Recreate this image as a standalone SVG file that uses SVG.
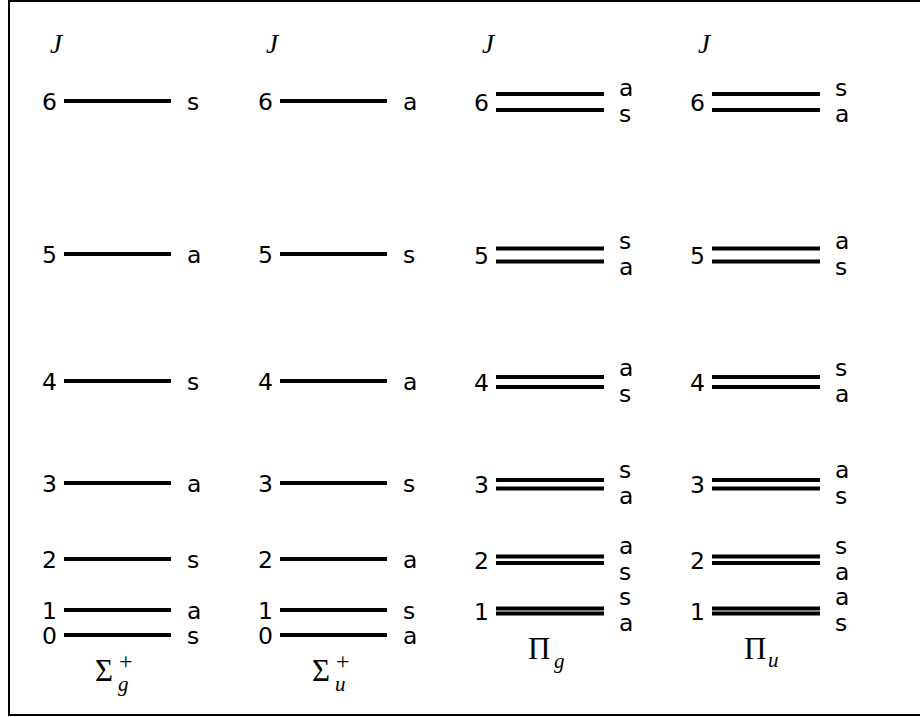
<svg xmlns="http://www.w3.org/2000/svg" width="920" height="717" viewBox="0 0 920 717">
<style>
.lv{stroke:#000;stroke-width:3.8;fill:none}
.n{font-family:"DejaVu Sans",sans-serif;font-size:23.5px;fill:#000}
.ne{font-family:"DejaVu Sans",sans-serif;font-size:23.5px;fill:#000;text-anchor:end}
.mj{font-family:"Liberation Serif",serif;font-style:italic;font-size:27px;fill:#000}
.sym{font-family:"Liberation Serif",serif;font-size:31px;fill:#000}
.sub{font-family:"Liberation Serif",serif;font-style:italic;font-size:21px;fill:#000}
.sup{font-family:"Liberation Serif",serif;font-size:24px;fill:#000}
</style>
<rect x="9" y="1" width="920" height="714" fill="#fff" stroke="#000" stroke-width="2"/>

<g id="col-sigma-g">
<text class="mj" x="50" y="53">J</text>
<g class="lv"><line x1="64" y1="101" x2="171" y2="101"/><line x1="64" y1="254" x2="171" y2="254"/><line x1="64" y1="381" x2="171" y2="381"/><line x1="64" y1="483" x2="171" y2="483"/><line x1="64" y1="559" x2="171" y2="559"/><line x1="64" y1="610" x2="171" y2="610"/><line x1="64" y1="635" x2="171" y2="635"/></g>
<text class="ne" x="57" y="110">6</text><text class="ne" x="57" y="263">5</text><text class="ne" x="57" y="390">4</text><text class="ne" x="57" y="492">3</text><text class="ne" x="57" y="568">2</text><text class="ne" x="57" y="619">1</text><text class="ne" x="57" y="644">0</text>
<text class="n" x="187" y="110">s</text><text class="n" x="187" y="263">a</text><text class="n" x="187" y="390">s</text><text class="n" x="187" y="492">a</text><text class="n" x="187" y="568">s</text><text class="n" x="187" y="619">a</text><text class="n" x="187" y="644">s</text>
<text class="sym" x="95" y="681">Σ</text><text class="sup" x="119" y="669">+</text><text class="sub" x="118" y="691">g</text>
</g>

<g id="col-sigma-u">
<text class="mj" x="266" y="53">J</text>
<g class="lv"><line x1="280" y1="101" x2="387" y2="101"/><line x1="280" y1="254" x2="387" y2="254"/><line x1="280" y1="381" x2="387" y2="381"/><line x1="280" y1="483" x2="387" y2="483"/><line x1="280" y1="559" x2="387" y2="559"/><line x1="280" y1="610" x2="387" y2="610"/><line x1="280" y1="635" x2="387" y2="635"/></g>
<text class="ne" x="273" y="110">6</text><text class="ne" x="273" y="263">5</text><text class="ne" x="273" y="390">4</text><text class="ne" x="273" y="492">3</text><text class="ne" x="273" y="568">2</text><text class="ne" x="273" y="619">1</text><text class="ne" x="273" y="644">0</text>
<text class="n" x="403" y="110">a</text><text class="n" x="403" y="263">s</text><text class="n" x="403" y="390">a</text><text class="n" x="403" y="492">s</text><text class="n" x="403" y="568">a</text><text class="n" x="403" y="619">s</text><text class="n" x="403" y="644">a</text>
<text class="sym" x="312" y="681">Σ</text><text class="sup" x="336" y="669">+</text><text class="sub" x="335" y="691">u</text>
</g>

<g id="col-pi-g">
<text class="mj" x="482" y="53">J</text>
<g class="lv">
<line x1="496" y1="94" x2="604" y2="94"/><line x1="496" y1="110" x2="604" y2="110"/>
<line x1="496" y1="248.5" x2="604" y2="248.5"/><line x1="496" y1="261.5" x2="604" y2="261.5"/>
<line x1="496" y1="377" x2="604" y2="377"/><line x1="496" y1="387" x2="604" y2="387"/>
<line x1="496" y1="480" x2="604" y2="480"/><line x1="496" y1="488.5" x2="604" y2="488.5"/>
<line x1="496" y1="556.5" x2="604" y2="556.5"/><line x1="496" y1="563" x2="604" y2="563"/>
<line x1="496" y1="608.5" x2="604" y2="608.5"/><line x1="496" y1="613.5" x2="604" y2="613.5"/>
</g>
<text class="ne" x="489" y="111">6</text><text class="ne" x="489" y="264">5</text><text class="ne" x="489" y="391">4</text><text class="ne" x="489" y="493">3</text><text class="ne" x="489" y="569">2</text><text class="ne" x="489" y="620">1</text>
<text class="n" x="619" y="96">a</text><text class="n" x="619" y="122">s</text>
<text class="n" x="619" y="249">s</text><text class="n" x="619" y="275">a</text>
<text class="n" x="619" y="376">a</text><text class="n" x="619" y="402">s</text>
<text class="n" x="619" y="478">s</text><text class="n" x="619" y="504">a</text>
<text class="n" x="619" y="554">a</text><text class="n" x="619" y="580">s</text>
<text class="n" x="619" y="605">s</text><text class="n" x="619" y="631">a</text>
<text class="sym" x="528" y="659">Π</text><text class="sub" x="554" y="668">g</text>
</g>

<g id="col-pi-u">
<text class="mj" x="698" y="53">J</text>
<g class="lv">
<line x1="712" y1="94" x2="820" y2="94"/><line x1="712" y1="110" x2="820" y2="110"/>
<line x1="712" y1="248.5" x2="820" y2="248.5"/><line x1="712" y1="261.5" x2="820" y2="261.5"/>
<line x1="712" y1="377" x2="820" y2="377"/><line x1="712" y1="387" x2="820" y2="387"/>
<line x1="712" y1="480" x2="820" y2="480"/><line x1="712" y1="488.5" x2="820" y2="488.5"/>
<line x1="712" y1="556.5" x2="820" y2="556.5"/><line x1="712" y1="563" x2="820" y2="563"/>
<line x1="712" y1="608.5" x2="820" y2="608.5"/><line x1="712" y1="613.5" x2="820" y2="613.5"/>
</g>
<text class="ne" x="705" y="111">6</text><text class="ne" x="705" y="264">5</text><text class="ne" x="705" y="391">4</text><text class="ne" x="705" y="493">3</text><text class="ne" x="705" y="569">2</text><text class="ne" x="705" y="620">1</text>
<text class="n" x="835" y="96">s</text><text class="n" x="835" y="122">a</text>
<text class="n" x="835" y="249">a</text><text class="n" x="835" y="275">s</text>
<text class="n" x="835" y="376">s</text><text class="n" x="835" y="402">a</text>
<text class="n" x="835" y="478">a</text><text class="n" x="835" y="504">s</text>
<text class="n" x="835" y="554">s</text><text class="n" x="835" y="580">a</text>
<text class="n" x="835" y="605">a</text><text class="n" x="835" y="631">s</text>
<text class="sym" x="744" y="659">Π</text><text class="sub" x="768" y="667">u</text>
</g>
</svg>
